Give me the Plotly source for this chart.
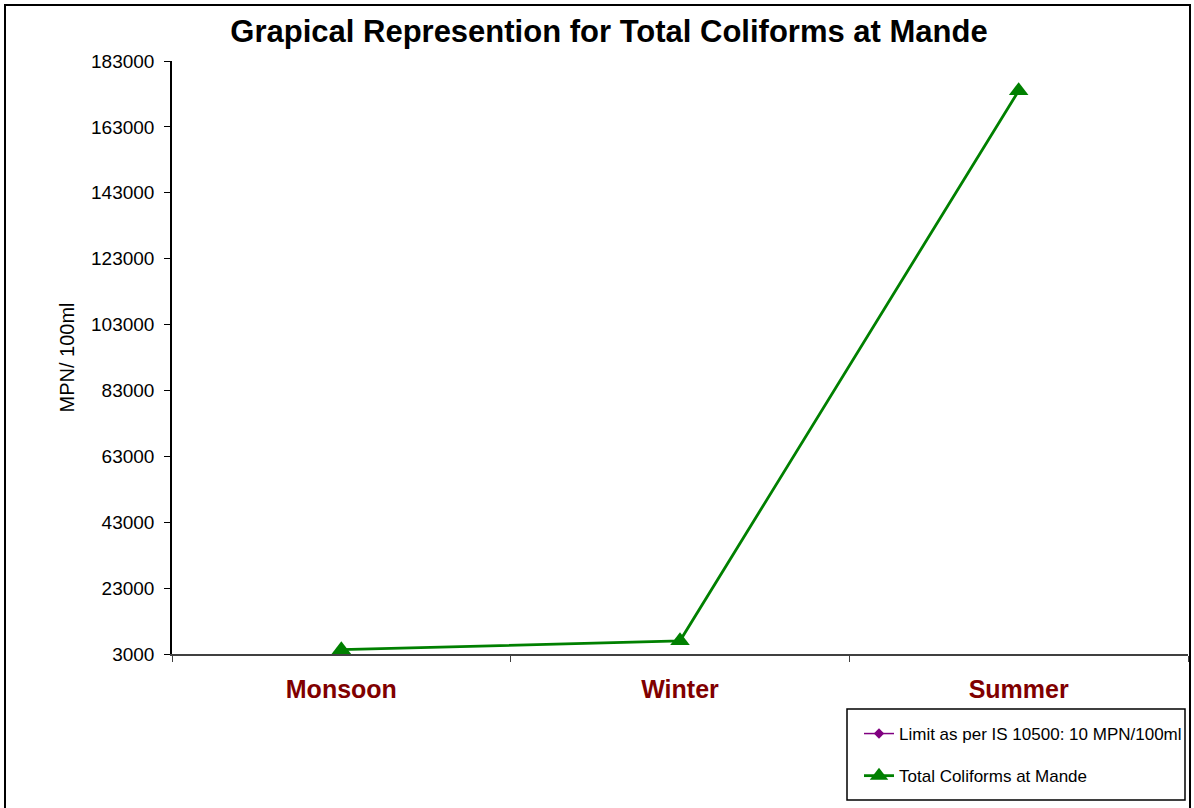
import plotly.graph_objects as go

seasons = ["Monsoon", "Winter", "Summer"]
limit_vals = [10, 10, 10]
coliform_vals = [4300, 7000, 174000]
y_ticks = [3000, 23000, 43000, 63000, 83000, 103000, 123000, 143000, 163000, 183000]

W, H = 1194, 808
L, R, T, B = 172, 6, 61, 154
pw, ph = W - L - R, H - T - B

def px(x):
    return (x - L) / pw

def py(y):
    return (H - B - y) / ph

fig = go.Figure()
fig.add_trace(go.Scatter(
    x=seasons, y=limit_vals, mode="lines+markers",
    name="Limit as per IS 10500: 10 MPN/100ml",
    line=dict(color="#800080", width=1.5),
    marker=dict(symbol="diamond", size=8, color="#800080"),
    legendgroup="a", cliponaxis=True,
))
fig.add_trace(go.Scatter(
    x=seasons, y=coliform_vals, mode="lines+markers",
    name="Total Coliforms at Mande",
    line=dict(color="#008000", width=2.8),
    marker=dict(symbol="triangle-up", size=17, color="#008000"),
    legendgroup="b", cliponaxis=False,
))

fig.update_layout(
    width=W, height=H,
    margin=dict(l=L, r=R, t=T, b=B, autoexpand=False),
    paper_bgcolor="white", plot_bgcolor="white",
    font=dict(family="Arial, Liberation Sans, sans-serif", color="black"),
    title=dict(text="<b>Grapical Represention for Total Coliforms at Mande</b>",
               x=px(609), xref="paper", xanchor="center",
               y=1 - 31 / H, yanchor="middle",
               font=dict(size=31, color="black")),
    xaxis=dict(
        type="category", range=[-0.5, 2.5],
        tickvals=seasons, ticktext=["<b>%s</b>" % s for s in seasons],
        tickson="boundaries", ticks="outside", ticklen=6, tickcolor="#404040",
        showline=True, linecolor="#404040", linewidth=2,
        showgrid=False, zeroline=False, ticklabelstandoff=12,
        tickfont=dict(size=25, color="#800000"),
    ),
    yaxis=dict(
        range=[3000, 183000], tickvals=y_ticks,
        ticktext=[str(v) for v in y_ticks],
        ticks="outside", ticklen=6, tickcolor="black",
        showline=True, linecolor="black", linewidth=1.5,
        showgrid=False, zeroline=False, ticklabelstandoff=6,
        tickfont=dict(size=19, color="black"),
        title=dict(text="MPN/ 100ml", font=dict(size=20, color="black"), standoff=11),
    ),
    showlegend=True,
    legend=dict(
        x=px(859), y=py(716), xanchor="left", yanchor="top",
        borderwidth=0, bgcolor="rgba(0,0,0,0)",
        font=dict(size=17, color="black"),
        traceorder="grouped", tracegroupgap=17,
    ),
)

fig.add_shape(type="rect", xref="paper", yref="paper",
              x0=px(5), x1=px(1190), y0=py(812), y1=py(5),
              line=dict(color="black", width=2), fillcolor="rgba(0,0,0,0)", layer="below")
fig.add_shape(type="rect", xref="paper", yref="paper",
              x0=px(847), x1=px(1185), y0=py(800), y1=py(709),
              line=dict(color="black", width=1.5), fillcolor="rgba(0,0,0,0)", layer="below")

fig.write_html("out.html", config={"displayModeBar": False},
               post_script="document.body.style.margin='0px';document.body.style.overflow='hidden';")
